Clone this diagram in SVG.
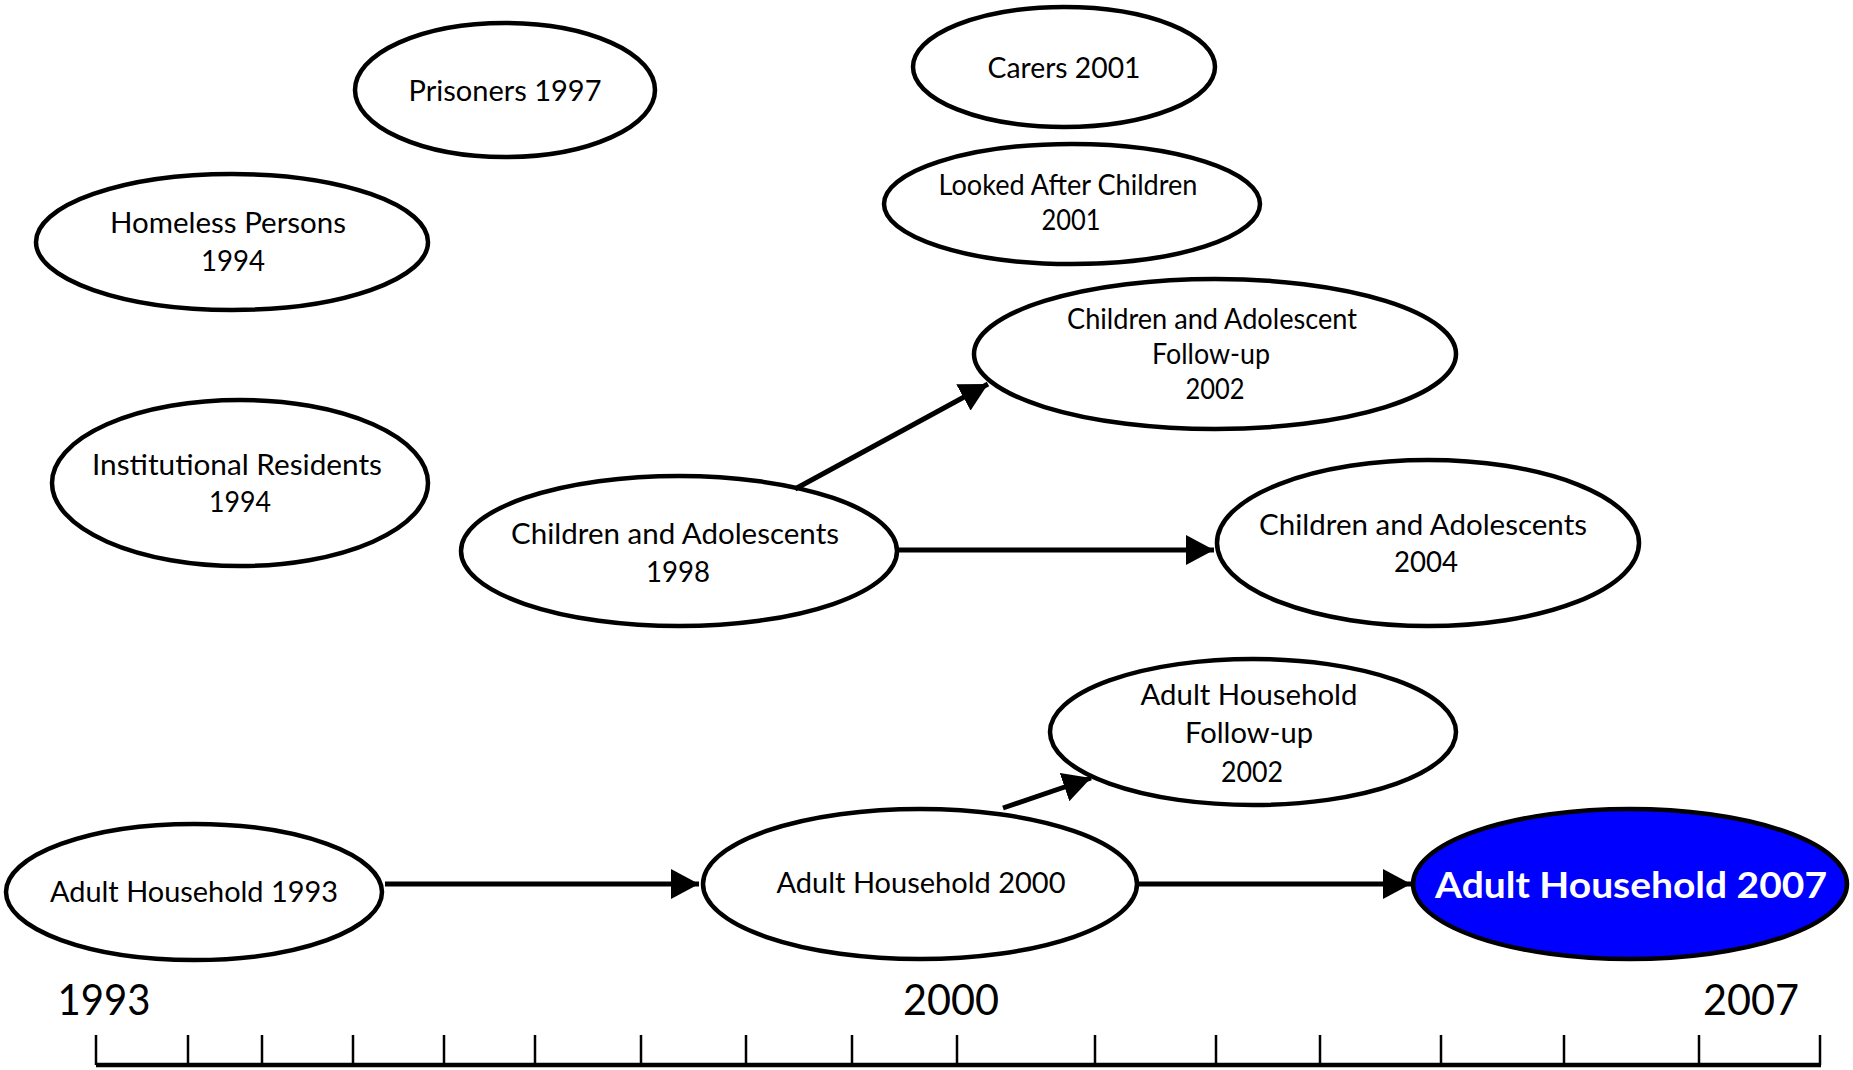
<svg xmlns="http://www.w3.org/2000/svg" width="1853" height="1070" viewBox="0 0 1853 1070">
<defs>
<marker id="arr" markerUnits="userSpaceOnUse" markerWidth="30" markerHeight="30" refX="28" refY="15" orient="auto">
<path d="M0,0 L28,15 L0,30 Z" fill="#000"/>
</marker>
</defs>
<style>
.n{fill:#fff;stroke:#000;stroke-width:4.5}
.hl{fill:#0000ff;stroke:#000;stroke-width:4.5}
.t{font-family:Lato,"Open Sans",sans-serif;font-size:28px;fill:#000;text-anchor:middle}
.tb{font-family:Lato,"Open Sans",sans-serif;font-size:36px;font-weight:bold;fill:#fff;text-anchor:middle}
.yr{font-family:Lato,"Open Sans",sans-serif;font-size:42px;fill:#000;text-anchor:middle}
.e{stroke:#000;stroke-width:5;fill:none;marker-end:url(#arr)}
.ax{stroke:#000;stroke-width:4.5;fill:none}
.tk{stroke:#000;stroke-width:2.5}
</style>
<rect width="1853" height="1070" fill="#fff"/>
<g id="prisoners">
<ellipse class="n" cx="505" cy="90" rx="150" ry="67"/>
<text class="t" x="505" y="101" textLength="193" lengthAdjust="spacingAndGlyphs">Prisoners 1997</text>
</g>
<g id="homeless">
<ellipse class="n" cx="232" cy="242" rx="196" ry="68"/>
<text class="t" x="228" y="233" textLength="236" lengthAdjust="spacingAndGlyphs">Homeless Persons</text>
<text class="t" x="233" y="271" textLength="64" lengthAdjust="spacingAndGlyphs">1994</text>
</g>
<g id="institutional">
<ellipse class="n" cx="240" cy="483" rx="188" ry="83"/>
<text class="t" x="237" y="475" textLength="290" lengthAdjust="spacingAndGlyphs">Institutional Residents</text>
<text class="t" x="240" y="512" textLength="62" lengthAdjust="spacingAndGlyphs">1994</text>
</g>
<g id="carers">
<ellipse class="n" cx="1064" cy="67" rx="151" ry="60"/>
<text class="t" x="1064" y="78" textLength="153" lengthAdjust="spacingAndGlyphs">Carers 2001</text>
</g>
<g id="looked-after">
<ellipse class="n" cx="1072" cy="204" rx="188" ry="60"/>
<text class="t" x="1068" y="195" textLength="259" lengthAdjust="spacingAndGlyphs">Looked After Children</text>
<text class="t" x="1071" y="230" textLength="59" lengthAdjust="spacingAndGlyphs">2001</text>
</g>
<g id="ca-followup">
<ellipse class="n" cx="1215" cy="354" rx="241" ry="75"/>
<text class="t" x="1212" y="329" textLength="290" lengthAdjust="spacingAndGlyphs">Children and Adolescent</text>
<text class="t" x="1211" y="364" textLength="118" lengthAdjust="spacingAndGlyphs">Follow-up</text>
<text class="t" x="1215" y="399" textLength="59" lengthAdjust="spacingAndGlyphs">2002</text>
</g>
<g id="ca-1998">
<ellipse class="n" cx="679" cy="551" rx="218" ry="75"/>
<text class="t" x="675" y="544" textLength="328" lengthAdjust="spacingAndGlyphs">Children and Adolescents</text>
<text class="t" x="678" y="582" textLength="64" lengthAdjust="spacingAndGlyphs">1998</text>
</g>
<g id="ca-2004">
<ellipse class="n" cx="1428" cy="543" rx="211" ry="83"/>
<text class="t" x="1423" y="535" textLength="328" lengthAdjust="spacingAndGlyphs">Children and Adolescents</text>
<text class="t" x="1426" y="572" textLength="64" lengthAdjust="spacingAndGlyphs">2004</text>
</g>
<g id="ah-followup">
<ellipse class="n" cx="1253" cy="732" rx="203" ry="73"/>
<text class="t" x="1249" y="705" textLength="217" lengthAdjust="spacingAndGlyphs">Adult Household</text>
<text class="t" x="1249" y="743" textLength="128" lengthAdjust="spacingAndGlyphs">Follow-up</text>
<text class="t" x="1252" y="782" textLength="62" lengthAdjust="spacingAndGlyphs">2002</text>
</g>
<g id="ah-1993">
<ellipse class="n" cx="194" cy="892" rx="188" ry="68"/>
<text class="t" x="194" y="902" textLength="288" lengthAdjust="spacingAndGlyphs">Adult Household 1993</text>
</g>
<g id="ah-2000">
<ellipse class="n" cx="920" cy="884" rx="217" ry="75"/>
<text class="t" x="921" y="893" textLength="289" lengthAdjust="spacingAndGlyphs">Adult Household 2000</text>
</g>
<g id="ah-2007">
<ellipse class="hl" cx="1630" cy="884" rx="217" ry="75"/>
<text class="tb" x="1631" y="898" textLength="392" lengthAdjust="spacingAndGlyphs">Adult Household 2007</text>
</g>
<g id="connectors">
<line class="e" x1="385" y1="884" x2="699" y2="884"/>
<line class="e" x1="1139" y1="884" x2="1411" y2="884"/>
<line class="e" x1="1003" y1="808" x2="1091" y2="778"/>
<line class="e" x1="897" y1="550" x2="1214" y2="550"/>
<line class="e" x1="795" y1="489" x2="988" y2="384"/>
</g>
<g id="timeline">
<line class="ax" x1="96" y1="1065" x2="1821" y2="1065"/>
<g class="tk">
<line x1="96" y1="1035" x2="96" y2="1065"/>
<line x1="188" y1="1035" x2="188" y2="1065"/>
<line x1="262" y1="1035" x2="262" y2="1065"/>
<line x1="353" y1="1035" x2="353" y2="1065"/>
<line x1="444" y1="1035" x2="444" y2="1065"/>
<line x1="535" y1="1035" x2="535" y2="1065"/>
<line x1="641" y1="1035" x2="641" y2="1065"/>
<line x1="746" y1="1035" x2="746" y2="1065"/>
<line x1="852" y1="1035" x2="852" y2="1065"/>
<line x1="957" y1="1035" x2="957" y2="1065"/>
<line x1="1095" y1="1035" x2="1095" y2="1065"/>
<line x1="1216" y1="1035" x2="1216" y2="1065"/>
<line x1="1320" y1="1035" x2="1320" y2="1065"/>
<line x1="1441" y1="1035" x2="1441" y2="1065"/>
<line x1="1564" y1="1035" x2="1564" y2="1065"/>
<line x1="1699" y1="1035" x2="1699" y2="1065"/>
<line x1="1820" y1="1035" x2="1820" y2="1065"/>
</g>
<text class="yr" x="104" y="1015" textLength="93" lengthAdjust="spacingAndGlyphs">1993</text>
<text class="yr" x="951" y="1015" textLength="96" lengthAdjust="spacingAndGlyphs">2000</text>
<text class="yr" x="1751" y="1015" textLength="96" lengthAdjust="spacingAndGlyphs">2007</text>
</g>
</svg>
